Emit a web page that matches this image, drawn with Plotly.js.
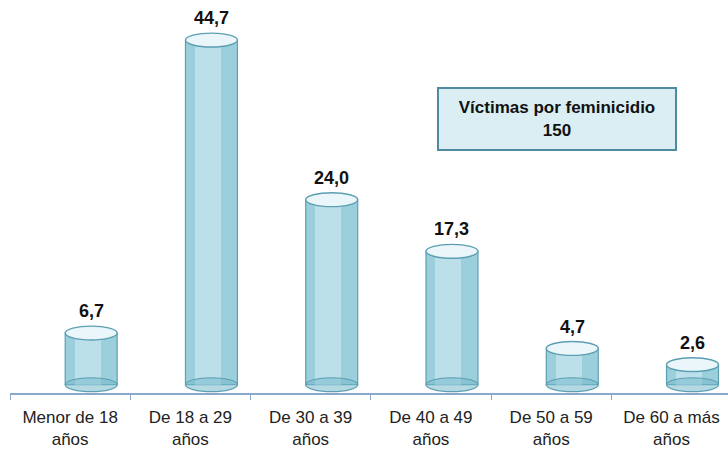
<!DOCTYPE html>
<html>
<head>
<meta charset="utf-8">
<script src="https://cdn.plot.ly/plotly-3.0.1.min.js"></script>
<style>html,body{margin:0;padding:0;background:#fff;}#chart{width:728px;height:452px;}</style>
</head>
<body>
<div id="chart"></div>
<script>
const categories = ["Menor de 18<br>años", "De 18 a 29<br>años", "De 30 a 39<br>años", "De 40 a 49<br>años", "De 50 a 59<br>años", "De 60 a más<br>años"];
const values = [6.7, 44.7, 24.0, 17.3, 4.7, 2.6];
const boxTitle = "Víctimas por feminicidio";
const boxTotal = "150";

const shift = 0.175;   // 3D depth shift of cylinders to the right
const bw = 0.432;      // cylinder width in category units
const ry = 0.9;        // ellipse half-height in y units
const idx = values.map((v, i) => i);

const body = {
  type: 'bar', x: categories, y: values,
  width: bw, offset: shift - bw / 2,
  marker: {color: '#9ccfdc', line: {color: '#5c9fb3', width: 1.2}},
  hoverinfo: 'skip', showlegend: false
};
const highlight = {
  type: 'bar', x: categories, y: values,
  width: bw * 0.5, offset: shift - bw * 0.32,
  marker: {color: 'rgba(205,234,240,0.65)', line: {width: 0}},
  hoverinfo: 'skip', showlegend: false
};

const shapes = [];
idx.forEach(i => {
  const c = i + shift;
  shapes.push({type: 'circle', xref: 'x', yref: 'y',
    x0: c - bw / 2, x1: c + bw / 2, y0: -ry, y1: ry,
    fillcolor: 'rgba(120,185,204,0.55)', line: {color: '#5c9fb3', width: 1.2}});
  shapes.push({type: 'circle', xref: 'x', yref: 'y',
    x0: c - bw / 2, x1: c + bw / 2, y0: values[i] - ry, y1: values[i] + ry,
    fillcolor: '#eaf6f9', line: {color: '#5c9fb3', width: 1.4}});
});

const annotations = idx.map(i => ({
  x: i + shift, y: values[i] + ry, xref: 'x', yref: 'y',
  text: values[i].toFixed(1).replace('.', ','), showarrow: false,
  yanchor: 'bottom', yshift: 3,
  font: {family: 'Liberation Sans, Arial, sans-serif', size: 18, color: '#111', weight: 'bold'}
}));
annotations.push({
  xref: 'paper', yref: 'paper', x: 0.762, y: 0.696, xanchor: 'center', yanchor: 'middle',
  text: '<b>' + boxTitle + '</b><br><b>' + boxTotal + '</b>', showarrow: false,
  bgcolor: '#daeef3', bordercolor: '#4f8aa0', borderwidth: 2, borderpad: 0,
  width: 236, height: 60,
  font: {family: 'Liberation Sans, Arial, sans-serif', size: 17, color: '#111'}
});

const layout = {
  width: 728, height: 452,
  margin: {l: 10, r: 0, t: 0, b: 59},
  paper_bgcolor: '#fff', plot_bgcolor: '#fff',
  barmode: 'overlay', bargap: 0,
  xaxis: {type: 'category', range: [-0.5, 5.47], showgrid: false, zeroline: false,
    showline: true, linecolor: '#8aa7cc', linewidth: 1.5,
    ticks: 'outside', tickson: 'boundaries', ticklen: 5, tickcolor: '#8aa7cc',
    ticklabelstandoff: 8,
    tickfont: {family: 'Liberation Sans, Arial, sans-serif', size: 17, color: '#222'}},
  yaxis: {range: [-1.08, 49.9], visible: false, showgrid: false, zeroline: false},
  shapes: shapes, annotations: annotations
};

Plotly.newPlot('chart', [body, highlight], layout, {staticPlot: true, displayModeBar: false});
</script>
</body>
</html>
